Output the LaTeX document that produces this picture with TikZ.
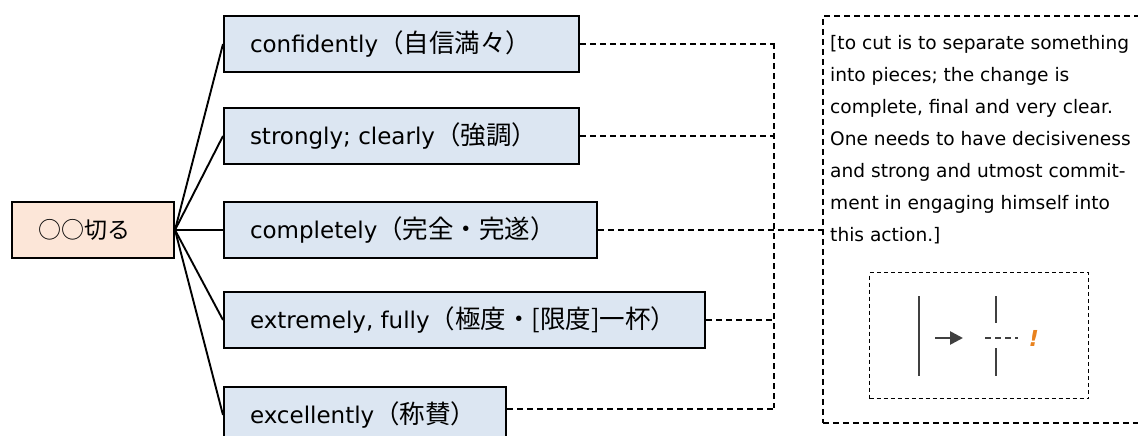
\documentclass[tikz,border=0pt]{standalone}
\usepackage{fontspec}
\setmainfont{DejaVu Sans}
\newfontfamily\jpfont{Noto Sans CJK JP}
\usetikzlibrary{arrows.meta}
\definecolor{boxblue}{HTML}{DCE6F2}
\definecolor{peach}{HTML}{FCE6D8}
\definecolor{sketchgray}{HTML}{404040}
\definecolor{bang}{HTML}{E8821E}
\newcommand\J[1]{{\jpfont\fontsize{25.5}{28}\selectfont #1}}
\tikzset{
  bx/.style={draw=black, fill=boxblue, line width=2pt, minimum height=56pt,
    anchor=north west, inner xsep=0pt, inner ysep=0pt, text width=#1,
    align=flush left, font=\fontsize{23}{28}\selectfont},
  root/.style={draw=black, fill=peach, line width=2pt, minimum height=56pt,
    anchor=north west, inner xsep=0pt, inner ysep=0pt, text width=162pt,
    align=flush left},
  tree/.style={line width=1.9pt, black},
  dsh/.style={line width=1.7pt, dash pattern=on 6pt off 4pt, black},
  thindsh/.style={line width=1.3pt, dash pattern=on 4pt off 3pt, black},
}
\begin{document}
\begin{tikzpicture}[x=1pt,y=-1pt]
\useasboundingbox (0,0) rectangle (1138,436);
% root
\node[root] (r) at (11,201) {\hspace*{27pt}\jpfont\fontsize{23}{26}\selectfont ○○切る};
% branches
\node[bx=355pt] (b1) at (223,15) {\hspace*{26pt}confidently\J{（自信満々）}};
\node[bx=355pt] (b2) at (223,107) {\hspace*{26pt}strongly; clearly\J{（強調）}};
\node[bx=373pt] (b3) at (223,201) {\hspace*{26pt}completely\J{（完全・完遂）}};
\node[bx=481pt] (b4) at (223,291) {\hspace*{26pt}extremely, fully\J{（極度・[限度]一杯）}};
\node[bx=282pt] (b5) at (223,386) {\hspace*{26pt}excellently\J{（称賛）}};
\foreach \b in {b1,b2,b3,b4,b5} \draw[tree] (r.east) -- (\b.west);
% note box
\node[draw=black, dsh, minimum width=330pt, minimum height=407pt, anchor=north west,
  inner sep=0pt] (note) at (822,15) {};
\node[anchor=north west, inner sep=0pt, text width=320pt, align=flush left,
  font=\fontsize{18.6}{32}\selectfont] (notetext) at (830,35)
  {[to cut is to separate something\\
   into pieces; the change is\\
   complete, final and very clear.\\
   One needs to have decisiveness\\
   and strong and utmost commit-\\
   ment in engaging himself into\\
   this action.]};
% sketch box
\node[draw=black, thindsh, minimum width=219pt, minimum height=126pt, anchor=north west,
  inner sep=0pt] (sketch) at (869,272) {};
\draw[sketchgray, line width=2pt] (919,296) -- (919,376);
\draw[sketchgray, line width=2.6pt, -{Triangle[length=13pt,width=13pt]}] (935,338) -- (963,338);
\draw[sketchgray, line width=2pt] (996,296) -- (996,323);
\draw[sketchgray, line width=2pt] (996,348) -- (996,376);
\draw[sketchgray, line width=2pt, dash pattern=on 6pt off 4pt] (985,338) -- (1018,338);
\node[inner sep=0pt, text=bang, font=\bfseries\itshape\fontsize{22}{24}\selectfont] (bang) at (1034,338) {!};
% connectors
\coordinate (busTop) at (774,43);
\coordinate (busBot) at (774,408);
\draw[dsh] (busTop) -- (busBot);
\draw[dsh] (b1.east) -- (b1.east -| busTop);
\draw[dsh] (b2.east) -- (b2.east -| busTop);
\draw[dsh] (b3.east) -- (b3.east -| note.west);
\draw[dsh] (b4.east) -- (b4.east -| busTop);
\draw[dsh] ([yshift=6pt]b5.east) -- ([yshift=6pt]b5.east -| busTop);
\end{tikzpicture}
\end{document}
